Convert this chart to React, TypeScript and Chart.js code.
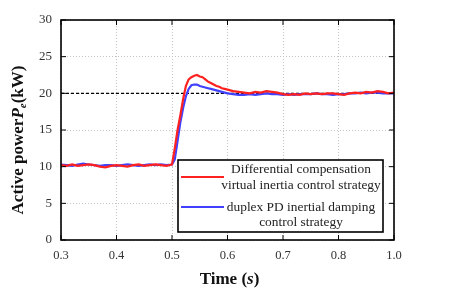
import React, { useEffect, useRef } from "react";
import { Chart, registerables } from "chart.js";

Chart.register(...registerables);

// Time axis (s)
const timePre = [0.30, 0.31, 0.32, 0.33, 0.34, 0.35, 0.36, 0.37, 0.38, 0.39, 0.40, 0.41, 0.42, 0.43, 0.44, 0.45, 0.46, 0.47, 0.48, 0.49];
const timeStep = [0.500, 0.505, 0.510, 0.515, 0.520, 0.525, 0.530, 0.535, 0.540, 0.545, 0.550, 0.555, 0.560, 0.565, 0.570, 0.575, 0.580, 0.585, 0.590, 0.595];
const timePost = [0.60, 0.61, 0.62, 0.63, 0.64, 0.65, 0.66, 0.67, 0.68, 0.69, 0.70, 0.71, 0.72, 0.73, 0.74, 0.75, 0.76, 0.77, 0.78, 0.79, 0.80, 0.81, 0.82, 0.83, 0.84, 0.85, 0.86, 0.87, 0.88, 0.89, 0.90];

// Differential compensation virtual inertia control strategy (kW)
const redPre = [10.2, 10.1, 10.3, 10.1, 10.2, 10.3, 10.2, 10.0, 9.9, 10.1, 10.2, 10.1, 10.0, 10.2, 10.3, 10.1, 10.2, 10.3, 10.2, 10.1];
const redStep = [10.3, 12.5, 15.0, 17.0, 19.2, 21.0, 21.9, 22.2, 22.4, 22.5, 22.3, 22.2, 21.9, 21.6, 21.4, 21.2, 21.0, 20.9, 20.7, 20.6];
const redPost = [20.5, 20.3, 20.2, 20.1, 20.0, 20.2, 20.1, 20.3, 20.2, 20.1, 19.9, 19.8, 19.9, 19.8, 20.0, 19.9, 20.0, 19.9, 20.0, 20.0, 19.9, 19.8, 20.0, 20.1, 20.0, 20.2, 20.1, 20.3, 20.2, 20.0, 20.1];

// duplex PD inertial damping control strategy (kW)
const bluePre = [10.3, 10.2, 10.1, 10.3, 10.4, 10.3, 10.2, 10.1, 10.2, 10.2, 10.1, 10.2, 10.3, 10.2, 10.1, 10.2, 10.3, 10.2, 10.3, 10.2];
const blueStep = [10.3, 11.0, 13.5, 16.0, 18.0, 19.6, 20.6, 21.1, 21.2, 21.2, 21.0, 20.9, 20.8, 20.7, 20.6, 20.5, 20.4, 20.3, 20.2, 20.1];
const bluePost = [20.0, 19.9, 19.8, 19.8, 19.9, 19.8, 19.9, 20.0, 19.9, 19.9, 19.8, 19.9, 19.8, 19.9, 19.9, 19.9, 20.0, 19.9, 19.9, 19.8, 19.9, 19.9, 20.0, 20.0, 20.1, 20.0, 20.1, 20.1, 20.0, 20.0, 20.0];

// Reference level (kW)
const refTimes = [0.3, 0.9];
const refValues = [20, 20];

const xTickLabels = ["0.3", "0.4", "0.5", "0.6", "0.7", "0.8", "1.0"];
const yMin = 0;
const yMax = 30;
const yStep = 5;

const RED = "#ff2020";
const BLUE = "#4040ff";

const legendLines = [
  { color: RED, text: ["Differential compensation", "virtual inertia control strategy"] },
  { color: BLUE, text: ["duplex PD inertial damping", "control strategy"] },
];

const SERIF = "'Liberation Serif', 'Times New Roman', serif";

const toPoints = (xs: number[], ys: number[]) => xs.map((x, i) => ({ x, y: ys[i] }));

export default function App() {
  const ref = useRef<HTMLCanvasElement | null>(null);

  useEffect(() => {
    if (!ref.current) return;
    const times = [...timePre, ...timeStep, ...timePost];
    const red = [...redPre, ...redStep, ...redPost];
    const blue = [...bluePre, ...blueStep, ...bluePost];

    const decor = {
      id: "decor",
      afterDatasetsDraw(chart: any) {
        const ctx = chart.ctx;
        const a = chart.chartArea;
        const xs = chart.scales.x;
        const ys = chart.scales.y;
        ctx.save();
        ctx.strokeStyle = "#000";
        ctx.lineWidth = 1;
        const tl = 5;
        ys.ticks.forEach((t: any) => {
          const y = ys.getPixelForValue(t.value);
          ctx.beginPath();
          ctx.moveTo(a.left, y); ctx.lineTo(a.left + tl, y);
          ctx.moveTo(a.right, y); ctx.lineTo(a.right - tl, y);
          ctx.stroke();
        });
        xs.ticks.forEach((t: any) => {
          const x = xs.getPixelForValue(t.value);
          ctx.beginPath();
          ctx.moveTo(x, a.bottom); ctx.lineTo(x, a.bottom - tl);
          ctx.moveTo(x, a.top); ctx.lineTo(x, a.top + tl);
          ctx.stroke();
        });
        ctx.lineWidth = 1.6;
        ctx.strokeRect(a.left, a.top, a.right - a.left, a.bottom - a.top);

        // legend box
        const bx = 178, by = 160, bw = 205, bh = 72;
        ctx.fillStyle = "#fff";
        ctx.fillRect(bx, by, bw, bh);
        ctx.lineWidth = 1.6;
        ctx.strokeStyle = "#000";
        ctx.strokeRect(bx, by, bw, bh);
        ctx.font = `13.4px ${SERIF}`;
        ctx.fillStyle = "#222";
        ctx.textAlign = "center";
        ctx.textBaseline = "middle";
        const rows = [
          { lineY: 177, texts: [169, 185] },
          { lineY: 207, texts: [207, 222] },
        ];
        legendLines.forEach((l, i) => {
          ctx.strokeStyle = l.color;
          ctx.lineWidth = 2;
          ctx.beginPath();
          ctx.moveTo(181, rows[i].lineY);
          ctx.lineTo(224, rows[i].lineY);
          ctx.stroke();
          l.text.forEach((s, j) => ctx.fillText(s, 301, rows[i].texts[j]));
        });
        ctx.restore();
      },
      afterDraw(chart: any) {
        const ctx = chart.ctx;
        ctx.save();
        ctx.fillStyle = "#111";
        ctx.textBaseline = "middle";
        const parts = [
          { t: "Time (", f: `bold 17px ${SERIF}` },
          { t: "s", f: `italic bold 17px ${SERIF}` },
          { t: ")", f: `bold 17px ${SERIF}` },
        ];
        let w = 0;
        parts.forEach((p) => { ctx.font = p.f; w += ctx.measureText(p.t).width; });
        let x = 229.5 - w / 2;
        ctx.textAlign = "left";
        parts.forEach((p) => { ctx.font = p.f; ctx.fillText(p.t, x, 280); x += ctx.measureText(p.t).width; });

        const yparts = [
          { t: "Active power", f: `bold 17px ${SERIF}`, dy: 0 },
          { t: "P", f: `italic bold 17px ${SERIF}`, dy: 0 },
          { t: "e", f: `italic bold 11px ${SERIF}`, dy: 4 },
          { t: "(kW)", f: `bold 17px ${SERIF}`, dy: 0 },
        ];
        let wy = 0;
        yparts.forEach((p) => { ctx.font = p.f; wy += ctx.measureText(p.t).width; });
        ctx.translate(19, 140);
        ctx.rotate(-Math.PI / 2);
        let px = -wy / 2;
        yparts.forEach((p) => { ctx.font = p.f; ctx.fillText(p.t, px, p.dy); px += ctx.measureText(p.t).width; });
        ctx.restore();
      },
    };

    const chart = new Chart(ref.current, {
      type: "line",
      data: {
        datasets: [
          { label: "Differential compensation virtual inertia control strategy", data: toPoints(times, red), borderColor: RED, borderWidth: 2.2, pointRadius: 0, tension: 0 },
          { label: "duplex PD inertial damping control strategy", data: toPoints(times, blue), borderColor: BLUE, borderWidth: 2.2, pointRadius: 0, tension: 0 },
          { label: "reference", data: toPoints(refTimes, refValues), borderColor: "#000", borderWidth: 1.3, borderDash: [3, 2], pointRadius: 0 },
        ],
      },
      options: {
        responsive: false,
        devicePixelRatio: 1,
        animation: false,
        layout: { padding: { left: 0, right: 57, top: 20, bottom: 0 } },
        plugins: { legend: { display: false }, tooltip: { enabled: false } },
        scales: {
          x: {
            type: "linear",
            min: 0.3,
            max: 0.9,
            afterFit: (s: any) => { s.height = 62; },
            ticks: {
              stepSize: 0.1,
              padding: 8,
              color: "#333",
              font: { family: SERIF, size: 12.5 },
              maxRotation: 0,
              callback: (_v: any, i: number) => xTickLabels[i],
            },
            grid: { color: "#c4c4c4", lineWidth: 1, drawTicks: false },
            border: { display: false, dash: [1, 2] },
          },
          y: {
            min: yMin,
            max: yMax,
            afterFit: (s: any) => { s.width = 61; },
            ticks: { stepSize: yStep, padding: 9, color: "#333", font: { family: SERIF, size: 13 } },
            grid: { color: "#c4c4c4", lineWidth: 1, drawTicks: false },
            border: { display: false, dash: [1, 2] },
          },
        },
      },
      plugins: [decor],
    });
    return () => chart.destroy();
  }, []);

  return (
    <div style={{ position: "absolute", left: 0, top: 0, width: 451, height: 302, background: "#fff" }}>
      <canvas ref={ref} width={451} height={302} />
    </div>
  );
}
